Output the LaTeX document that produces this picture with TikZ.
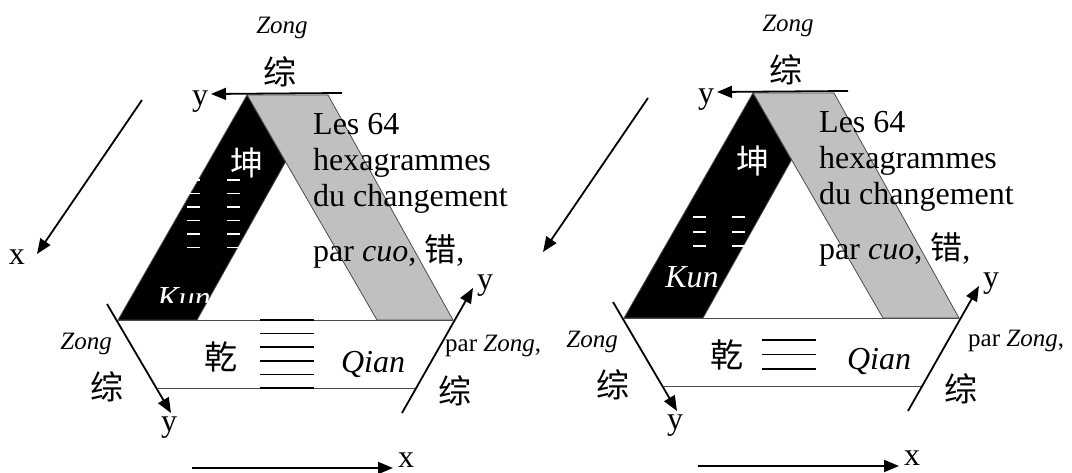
\documentclass[tikz,border=0pt]{standalone}
\usepackage{fontspec}
\setmainfont{Liberation Serif}
\newfontfamily\cjk{Noto Sans CJK SC}
\usetikzlibrary{arrows.meta}
\definecolor{bandgray}{RGB}{192,192,192}

\begin{document}
\begin{tikzpicture}[x=1pt, y=-1pt,
  axis/.style={-{Triangle[length=15pt, width=12pt]}, line width=1.8pt},
  rim/.style={draw=black!70, line width=0.8pt},
  yin/.style={white, line width=1.5pt},
  yang/.style={black, line width=1.8pt},
  big/.style={font=\fontsize{32}{36}\selectfont, inner sep=0pt},
  small/.style={font=\fontsize{25}{30}\selectfont\itshape, inner sep=0pt},
  han/.style={font=\fontsize{33}{36}\selectfont\cjk, inner sep=0pt}
]
\useasboundingbox (0,0) rectangle (1072,473);

% the two triangles share their frame
\foreach \dx/\dy/\s in {0/0/L, 506/-2/R} {
\begin{scope}[shift={(\dx,\dy)}]
  \filldraw[fill=bandgray, rim] (247,95) -- (328,95) -- (453,320) -- (377,320) -- cycle;
  \filldraw[fill=black, rim] (247,95) -- (285.5,162) -- (197,320) -- (118,320) -- cycle;
  \draw[rim] (118,320) -- (453,320);
  \draw[rim] (158,388) -- (415,388);

  \coordinate (\s-top1) at (342,93);   \coordinate (\s-top2) at (211,94);
  \coordinate (\s-lft1) at (107,304);  \coordinate (\s-lft2) at (171,413);
  \coordinate (\s-rgt1) at (402,413);  \coordinate (\s-rgt2) at (473,288);
  \coordinate (\s-xa1)  at (142,100);  \coordinate (\s-xa2)  at (37,254);
  \coordinate (\s-xb1)  at (192,468);  \coordinate (\s-xb2)  at (393,468);
  \foreach \a/\b in {top1/top2, lft1/lft2, rgt1/rgt2, xa1/xa2, xb1/xb2}
    \draw[axis] (\s-\a) -- (\s-\b);

  \node[big, anchor=base] (\s-ytop) at (200,106) {y};
  \node[big, anchor=base] (\s-ybot) at (169,431) {y};
  \node[big, anchor=base] (\s-yrgt) at (485,290) {y};
  \node[big, anchor=base] (\s-xbot) at (406,467) {x};

  \node[small, anchor=base] (\s-zongtop) at (282,34) {Zong};
  \node[han] (\s-zontop) at (280,72) {综};
  \node[small, anchor=base east] (\s-zongl) at (112,350) {Zong};
  \node[han] (\s-zonl) at (107,387) {综};
  \node[han] (\s-zonr) at (455,391) {综};

  \node[big, align=left, anchor=north west] (\s-title) at (313,113)
    {Les 64\\hexagrammes\\du changement};
  \node[big, anchor=base west] (\s-cuo) at (313,262) {par \textit{cuo}, {\cjk 错},};

  \node[han, white] (\s-kun) at (247,163) {坤};
  \node[han] (\s-qian) at (221,357) {乾};
  \node[big, anchor=base, font=\fontsize{32}{36}\selectfont\itshape] (\s-qianp) at (373,372) {Qian};
\end{scope}
}

% left: hexagrams
\node[big, anchor=base] (xleft) at (17,265) {x};
\foreach \yy in {180,193.5,207,220.5,234,247.5} {
  \draw[yin] (187,\yy) -- (200,\yy);
  \draw[yin] (227,\yy) -- (240,\yy);
}
\foreach \yy in {320,333.6,347.2,360.8,374.4,388}
  \draw[yang] (260,\yy) -- (314,\yy);
\begin{scope}
  \clip (0,0) rectangle (1072,303);
  \node[big, white, anchor=base, font=\fontsize{32}{36}\selectfont\itshape] (kunL) at (184,309) {Kun};
\end{scope}
\node[small, anchor=base west, font=\fontsize{25}{30}\selectfont] (parzongL) at (445,352) {par \textit{Zong},};

% right: trigrams
\foreach \yy in {217,232,246} {
  \draw[yin] (693,\yy) -- (706,\yy);
  \draw[yin] (732,\yy) -- (745,\yy);
}
\foreach \yy in {340,354.5,369}
  \draw[yang] (762,\yy) -- (816,\yy);
\node[big, white, anchor=base, font=\fontsize{32}{36}\selectfont\itshape] (kunR) at (692,288) {Kun};
\node[small, anchor=base west, font=\fontsize{25}{30}\selectfont] (parzongR) at (968,346) {par \textit{Zong},};

\end{tikzpicture}
\end{document}
